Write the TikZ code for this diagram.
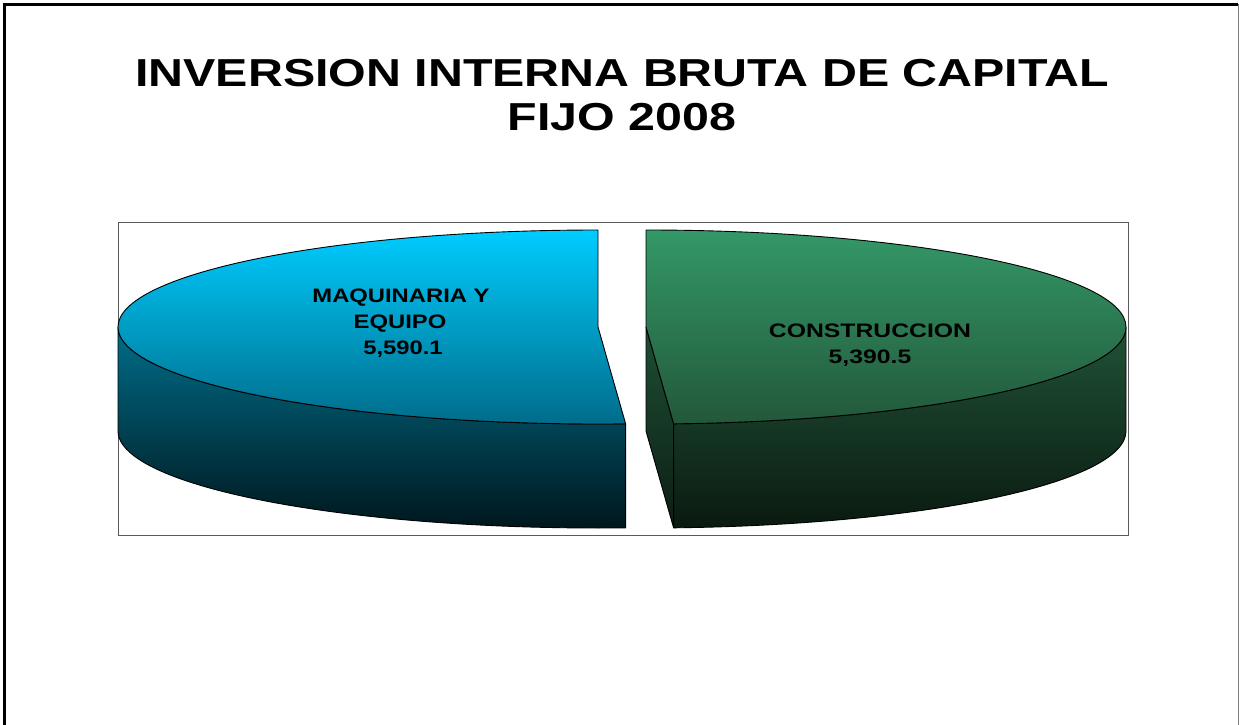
\documentclass[tikz,border=0pt]{standalone}
\usepackage{fontspec}
\setmainfont{Liberation Sans}
\definecolor{bTopA}{RGB}{0,204,255}
\definecolor{bTopB}{RGB}{0,108,138}
\definecolor{bSideA}{RGB}{0,110,138}
\definecolor{bSideB}{RGB}{0,22,28}
\definecolor{gTopA}{RGB}{52,152,104}
\definecolor{gTopB}{RGB}{34,88,58}
\definecolor{gSideA}{RGB}{32,82,54}
\definecolor{gSideB}{RGB}{10,26,16}
\definecolor{gCutA}{RGB}{30,78,52}
\definecolor{gCutB}{RGB}{12,30,20}
\definecolor{areaLine}{RGB}{90,90,90}
\begin{document}
\begin{tikzpicture}[x=1pt,y=-1pt,
  face/.style={draw=black, line width=0.9pt, line join=round},
  lbl/.style={font=\fontsize{19.5}{23}\selectfont\bfseries, inner sep=0pt, anchor=base},
  ttl/.style={font=\fontsize{39}{44}\selectfont\bfseries, inner sep=0pt, anchor=base, xscale=1.24},
  er/.style={x radius=480, y radius=97}]
\useasboundingbox (0,0) rectangle (1239,725);
\fill[white] (0,0) rectangle (1239,725);
% outer frame
\draw[line width=3pt] (4.5,725) -- (4.5,4.5) -- (1238,4.5);
\draw[gray, line width=1pt] (1238,4.5) -- (1238,725);
% plot area
\draw[areaLine, line width=1pt] (118,222) rectangle (1128,535);
% blue slice side
\draw[face, top color=bSideA, bottom color=bSideB]
  (118,327) arc[start angle=180, end angle=86.7, er] -- ++(0,104)
  arc[start angle=86.7, end angle=180, er] -- cycle;
% blue slice top
\draw[face, top color=bTopA, bottom color=bTopB]
  (598,327) -- (598,230) arc[start angle=270, end angle=86.7, er] -- cycle;
% green cut face
\draw[face, top color=gCutA, bottom color=gCutB]
  (646,327) -- (646,431) -- (673.6,527.8) -- (673.6,423.8) -- cycle;
% green side
\draw[face, top color=gSideA, bottom color=gSideB]
  (1126,327) arc[start angle=0, end angle=86.7, er] -- ++(0,104)
  arc[start angle=86.7, end angle=0, er] -- cycle;
% green top
\draw[face, top color=gTopA, bottom color=gTopB]
  (646,327) -- (646,230) arc[start angle=270, end angle=446.7, er] -- cycle;
% title
\node[ttl] (t1) at (622,86) {INVERSION INTERNA BRUTA DE CAPITAL};
\node[ttl] (t2) at (622,130) {FIJO 2008};
% labels
\node[lbl, xscale=1.22] (m1) at (401,302) {MAQUINARIA Y};
\node[lbl, xscale=1.22] (m2) at (400,328) {EQUIPO};
\node[lbl, xscale=1.22] (m3) at (403,354) {5,590.1};
\node[lbl, xscale=1.27] (c1) at (870,337) {CONSTRUCCION};
\node[lbl, xscale=1.27] (c2) at (870,363) {5,390.5};
\end{tikzpicture}
\end{document}
